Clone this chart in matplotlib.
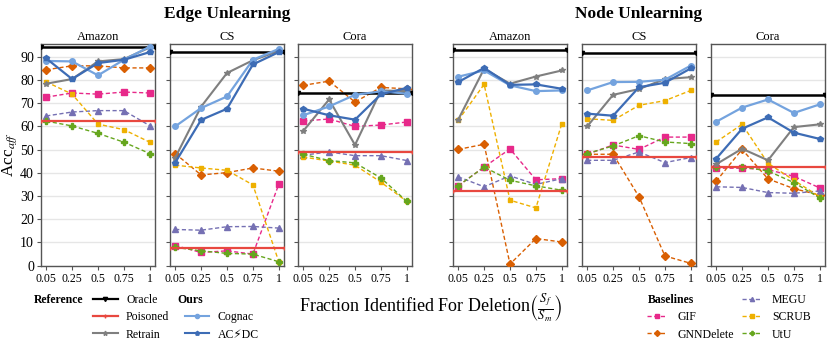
import matplotlib
matplotlib.use("Agg")
import matplotlib.pyplot as plt
from matplotlib.lines import Line2D

plt.rcParams["font.family"] = ["Liberation Serif", "DejaVu Sans"]
plt.rcParams["mathtext.fontset"] = "stix"

# x categories and panel names
fractions = ["0.05", "0.25", "0.5", "0.75", "1"]
datasets = ["Amazon", "CS", "Cora"]
settings = ["Edge Unlearning", "Node Unlearning"]

# reference lines, one value per dataset (Amazon, CS, Cora)
oracle_edge = [94.0, 92.0, 74.3]
oracle_node = [93.0, 91.5, 73.5]
poisoned_edge = [62.3, 7.6, 49.0]
poisoned_node = [32.0, 46.8, 42.4]

# series: rows are Amazon, CS, Cora; columns follow `fractions`
retrain_edge = [[78.4, 80.4, 88.0, 89.0, 94.0],
                [46.5, 68.5, 83.0, 88.5, 92.5],
                [58.0, 71.6, 52.0, 75.5, 75.2]]
retrain_node = [[62.9, 84.8, 78.4, 81.5, 84.1],
                [60.0, 73.6, 76.1, 80.4, 81.2],
                [43.7, 50.4, 45.4, 59.7, 60.9]]

cognac_edge = [[88.2, 88.0, 82.0, 88.7, 94.4],
               [60.0, 67.9, 72.9, 88.7, 93.4],
               [64.8, 68.6, 73.6, 75.1, 74.1]]
cognac_node = [[81.4, 84.1, 77.7, 75.2, 75.5],
               [75.5, 79.1, 79.2, 80.1, 86.2],
               [62.0, 68.1, 71.6, 65.8, 69.5]]

acdc_edge = [[89.3, 80.4, 87.3, 88.7, 92.0],
             [44.4, 62.8, 67.6, 86.7, 92.0],
             [67.6, 64.8, 62.9, 73.8, 76.6]]
acdc_node = [[79.1, 85.2, 77.9, 78.1, 76.2],
             [65.5, 64.6, 76.9, 78.8, 85.0],
             [46.1, 59.0, 63.9, 57.3, 54.6]]

gif_edge = [[72.6, 74.4, 73.9, 74.8, 74.4],
            [8.7, 5.7, 6.4, 5.0, 35.1],
            [62.3, 63.2, 60.0, 60.6, 61.9]]
gif_node = [[34.4, 42.5, 50.3, 37.0, 37.5],
            [48.0, 52.0, 50.1, 55.4, 55.4],
            [42.0, 42.0, 41.4, 38.5, 33.5]]

gnndelete_edge = [[84.4, 86.1, 86.1, 85.2, 85.2],
                  [48.3, 39.1, 40.1, 42.1, 40.7],
                  [77.7, 79.5, 70.5, 76.8, 76.2]]
gnndelete_node = [[50.1, 52.3, 0.7, 11.7, 10.2],
                  [48.0, 48.0, 29.7, 4.2, 1.0],
                  [36.4, 50.1, 37.4, 33.2, 30.4]]

megu_edge = [[64.5, 66.2, 66.8, 66.8, 60.3],
             [15.6, 15.3, 16.8, 16.9, 16.2],
             [47.6, 49.0, 47.4, 47.4, 45.3]]
megu_node = [[38.3, 34.0, 38.7, 35.0, 37.5],
             [45.4, 45.4, 49.0, 44.4, 46.6],
             [34.0, 33.7, 31.5, 31.2, 32.2]]

scrub_edge = [[79.2, 73.9, 61.0, 58.6, 53.2],
              [43.3, 42.1, 41.1, 34.8, 1.7],
              [46.8, 45.1, 43.3, 36.0, 27.7]]
scrub_node = [[62.6, 78.1, 28.2, 24.9, 61.2],
              [63.3, 62.6, 69.1, 71.1, 75.5],
              [53.3, 60.9, 44.1, 36.8, 29.7]]

utu_edge = [[62.3, 60.2, 57.0, 53.2, 48.3],
            [7.9, 6.4, 5.3, 5.0, 1.7],
            [48.0, 45.3, 44.3, 37.8, 27.7]]
utu_node = [[34.4, 42.5, 36.8, 34.4, 32.5],
            [48.3, 51.6, 56.0, 53.3, 52.6],
            [42.6, 42.6, 40.8, 35.8, 29.2]]

# colours / styles
C_ORACLE = "black"
C_POISON = "#e8483f"
C_RETRAIN = "#7f7f7f"
C_COGNAC = "#74a3de"
C_ACDC = "#3d6cb5"
C_GIF = "#e7298a"
C_GNN = "#d95f02"
C_MEGU = "#7570b3"
C_SCRUB = "#eeb000"
C_UTU = "#66a61e"

baselines = [
    ("GIF", gif_edge, gif_node, C_GIF, "s", 4),
    ("GNNDelete", gnndelete_edge, gnndelete_node, C_GNN, "D", 3.8),
    ("MEGU", megu_edge, megu_node, C_MEGU, "^", 4),
    ("SCRUB", scrub_edge, scrub_node, C_SCRUB, "s", 3.5),
    ("UtU", utu_edge, utu_node, C_UTU, "P", 4.5),
]

fig = plt.figure(figsize=(8.31, 3.41), dpi=100)
W, H = 831, 341
panel_w = 114
panel_left = [41, 170, 298, 453, 582, 711]
bottom, top = 265.7, 44

x = list(range(len(fractions)))
axes = []
for k, left in enumerate(panel_left):
    g, d = divmod(k, 3)
    ax = fig.add_axes([left / W, 1 - bottom / H, panel_w / W, (bottom - top) / H])
    axes.append(ax)

    edge = g == 0
    for name, ev, nv, col, mk, ms in baselines:
        vals = (ev if edge else nv)[d]
        ax.plot(x, vals, ls="--", lw=1.0, color=col, marker=mk, ms=ms,
                dashes=(3, 1.8), zorder=3)

    ax.axhline((oracle_edge if edge else oracle_node)[d], color=C_ORACLE,
               lw=1.8, marker="v", ms=3, zorder=4)
    ax.axhline((poisoned_edge if edge else poisoned_node)[d], color=C_POISON,
               lw=1.6, marker="+", ms=3, zorder=4)
    ax.plot(x, (retrain_edge if edge else retrain_node)[d], color=C_RETRAIN,
            lw=1.5, marker="*", ms=4, zorder=5)
    ax.plot(x, (cognac_edge if edge else cognac_node)[d], color=C_COGNAC,
            lw=1.6, marker="o", ms=4, zorder=6)
    ax.plot(x, (acdc_edge if edge else acdc_node)[d], color=C_ACDC,
            lw=1.6, marker="p", ms=4, zorder=6)

    ax.set_xlim(-0.2, 4.2)
    ax.set_ylim(0, 95.5)
    ax.set_xticks(x)
    ax.set_xticklabels(fractions, fontsize=8.5)
    ax.set_yticks(range(0, 100, 10))
    if k == 0:
        ax.tick_params(axis="y", labelsize=10)
    else:
        ax.set_yticklabels([])
    ax.tick_params(length=3, color="#555555", pad=2)
    ax.grid(axis="y", color="#e6e6e6", lw=1.0, zorder=0)
    ax.set_axisbelow(True)
    for sp in ax.spines.values():
        sp.set_color("#555555")
        sp.set_linewidth(1.0)
    ax.set_title(datasets[d], fontsize=9, pad=3)

# group titles and axis labels
fig.text(227 / W, 1 - 14 / H, settings[0], ha="center", va="center",
         fontsize=12.5, fontweight="bold")
fig.text(639 / W, 1 - 14 / H, settings[1], ha="center", va="center",
         fontsize=12.5, fontweight="bold")
fig.text(9.5 / W, 1 - 155 / H, r"Acc$_{aff}$", rotation=90, ha="center",
         va="center", fontsize=12.5)
fig.text(431 / W, 1 - 308 / H,
         r"Fraction Identified For Deletion$\left(\frac{S_f}{S_m}\right)$",
         ha="center", va="center", fontsize=13)

# legends
blank = Line2D([], [], ls="none")
ref_handles = [
    Line2D([], [], color=C_ORACLE, lw=1.6, marker="v", ms=3),
    Line2D([], [], color=C_POISON, lw=1.6, marker="+", ms=3),
    Line2D([], [], color=C_RETRAIN, lw=1.5, marker="*", ms=3.5),
    blank,
    Line2D([], [], color=C_COGNAC, lw=1.5, marker="o", ms=3),
    Line2D([], [], color=C_ACDC, lw=1.5, marker="p", ms=3),
]
ref_labels = ["Oracle", "Poisoned", "Retrain", " ", "Cognac", "AC\u26a1DC"]
fig.legend(ref_handles, ref_labels, ncol=2, loc="upper left",
           bbox_to_anchor=(93 / W, 1 - 294 / H), frameon=False, fontsize=8.5,
           borderpad=0, borderaxespad=0, handlelength=2.1, handletextpad=0.7,
           columnspacing=1.3, labelspacing=0.45)
fig.text(34 / W, 1 - 300 / H, "Reference", ha="left", va="center",
         fontsize=8.5, fontweight="bold")
fig.text(177 / W, 1 - 300 / H, "Ours", ha="left", va="center",
         fontsize=8.5, fontweight="bold")

base_handles = [blank] + [
    Line2D([], [], color=col, lw=1.0, ls="--", dashes=(3, 1.8), marker=mk, ms=3)
    for _, _, _, col, mk, _ in baselines
]
base_labels = [" "] + [b[0] for b in baselines]
fig.legend(base_handles, base_labels, ncol=2, loc="upper left",
           bbox_to_anchor=(647 / W, 1 - 294 / H), frameon=False, fontsize=8.5,
           borderpad=0, borderaxespad=0, handlelength=1.7, handletextpad=0.85,
           columnspacing=0.7, labelspacing=0.45)
fig.text(648 / W, 1 - 300 / H, "Baselines", ha="left", va="center",
         fontsize=8.5, fontweight="bold")

fig.savefig("out.png", dpi=100)
